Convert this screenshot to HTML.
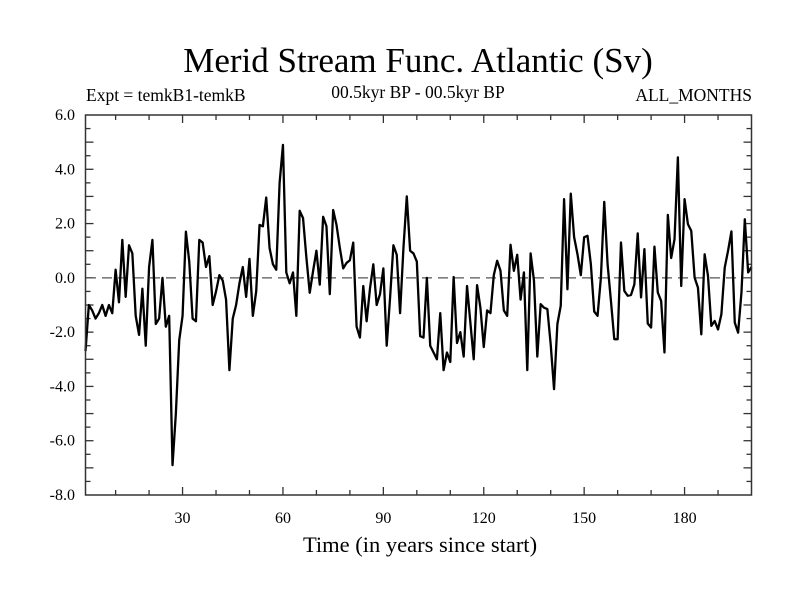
<!DOCTYPE html>
<html><head><meta charset="utf-8"><style>
body{margin:0;background:#fff;}
svg{display:block;font-family:"Liberation Serif",serif;}
</style></head><body>
<svg id="chart" width="800" height="600" viewBox="0 0 800 600" xmlns="http://www.w3.org/2000/svg">
<rect width="800" height="600" fill="#fff"/>
<text x="418" y="72" font-size="35" text-anchor="middle">Merid Stream Func. Atlantic (Sv)</text>
<text x="86" y="101" font-size="17.5">Expt = temkB1-temkB</text>
<text x="418" y="98" font-size="17.5" text-anchor="middle">00.5kyr BP - 00.5kyr BP</text>
<text x="752" y="101" font-size="17.5" text-anchor="end">ALL_MONTHS</text>
<text x="420" y="552" font-size="22.5" text-anchor="middle">Time (in years since start)</text>
<g id="ticks"></g>
<line id="zero" x1="86" x2="752" stroke="#555" stroke-width="1.3" stroke-dasharray="10,6"/>
<path id="series" fill="none" stroke="#000" stroke-width="2.3" stroke-linejoin="round"/>
<rect x="85.5" y="115" width="666" height="380" fill="none" stroke="#333" stroke-width="1.5"/>
</svg>
<script>
const values = [
-2.7,-1.0,-1.2,-1.5,-1.3,-1.0,-1.4,-1.0,-1.3,0.3,
-0.9,1.4,-0.7,1.2,0.9,-1.4,-2.1,-0.4,-2.5,0.4,
1.4,-1.7,-1.5,0.0,-1.8,-1.4,-6.9,-5.0,-2.3,-1.4,
1.7,0.6,-1.5,-1.6,1.4,1.3,0.4,0.8,-1.0,-0.5,
0.1,-0.1,-0.8,-3.4,-1.5,-1.0,-0.2,0.4,-0.7,0.7,
-1.4,-0.5,1.95,1.9,2.96,1.1,0.5,0.3,3.5,4.9,
0.2,-0.2,0.2,-1.4,2.47,2.2,0.75,-0.55,0.25,1.0,
-0.25,2.25,1.9,-0.6,2.5,1.95,1.1,0.35,0.55,0.65,
1.3,-1.8,-2.2,-0.3,-1.6,-0.4,0.5,-1.0,-0.6,0.35,
-2.5,-0.75,1.2,0.85,-1.3,1.1,3.0,1.0,0.9,0.6,
-2.15,-2.2,0.0,-2.5,-2.75,-3.0,-1.3,-3.4,-2.75,-3.1,
0.03,-2.4,-2.0,-2.9,-0.3,-1.65,-3.0,-0.27,-1.1,-2.55,
-1.2,-1.3,0.1,0.63,0.26,-1.2,-1.4,1.22,0.26,0.85,
-0.8,0.2,-3.4,0.9,-0.1,-2.9,-0.97,-1.1,-1.15,-2.45,
-4.1,-1.7,-1.03,2.9,-0.42,3.1,1.5,0.87,0.1,1.5,
1.55,0.5,-1.24,-1.4,0.01,2.8,0.5,-0.85,-2.26,-2.26,
1.3,-0.48,-0.66,-0.63,-0.24,1.64,-0.72,1.06,-1.68,-1.83,
1.15,-0.54,-0.85,-2.75,2.32,0.73,1.43,4.44,-0.3,2.9,
1.98,1.73,0.01,-0.36,-2.08,0.87,0.07,-1.77,-1.59,-1.9,
-1.34,0.38,1.0,1.71,-1.65,-2.02,-0.54,2.16,0.2,0.4];
const startYear = 1;
const xTickLabels = [30,60,90,120,150,180];
const yTickLabels = ["-8.0","-6.0","-4.0","-2.0","0.0","2.0","4.0","6.0"];
const xMin = 1, xMax = 200, yMin = -8, yMax = 6;

const L=85.5,R=751.5,T=115,B=495;
const sx = v => L + (v - xMin) / (xMax - xMin) * (R - L);
const sy = v => B - (v - yMin) / (yMax - yMin) * (B - T);
const NS="http://www.w3.org/2000/svg";
const g=document.getElementById('ticks');
function mk(tag,attrs){const e=document.createElementNS(NS,tag);for(const k in attrs)e.setAttribute(k,attrs[k]);g.appendChild(e);return e;}

for(let t=10;t<xMax;t+=10){
  const x=sx(t), len=(t%30===0)?8:5;
  const a=mk('line',{x1:x,x2:x,y1:B,y2:B-len,stroke:'#333','stroke-width':1.3});
  
  
  const b=mk('line',{x1:x,x2:x,y1:T,y2:T+len,stroke:'#333','stroke-width':1.3});
  
  
}
xTickLabels.forEach(t=>{
  const e=mk('text',{x:sx(t),y:523,'font-size':16,'text-anchor':'middle'});
  e.textContent=t;
  
  
});
for(let v=yMin+0.5;v<yMax;v+=0.5){
  const y=sy(v), len=(Math.abs(v%1)<1e-6)?8:5;
  const a=mk('line',{x1:L,x2:L+len,y1:y,y2:y,stroke:'#333','stroke-width':1.3});
  
  
  const b=mk('line',{x1:R,x2:R-len,y1:y,y2:y,stroke:'#333','stroke-width':1.3});
  
  
}
yTickLabels.forEach(s=>{
  const e=mk('text',{x:75,y:sy(parseFloat(s))+5,'font-size':16,'text-anchor':'end'});
  e.textContent=s;
  
  
});
const z=document.getElementById('zero');
z.setAttribute('y1',sy(0));z.setAttribute('y2',sy(0));
let d='';
values.forEach((v,i)=>{d+=(i?'L':'M')+sx(startYear+i).toFixed(2)+','+sy(v).toFixed(2);});
document.getElementById('series').setAttribute('d',d);
</script>
</body></html>
